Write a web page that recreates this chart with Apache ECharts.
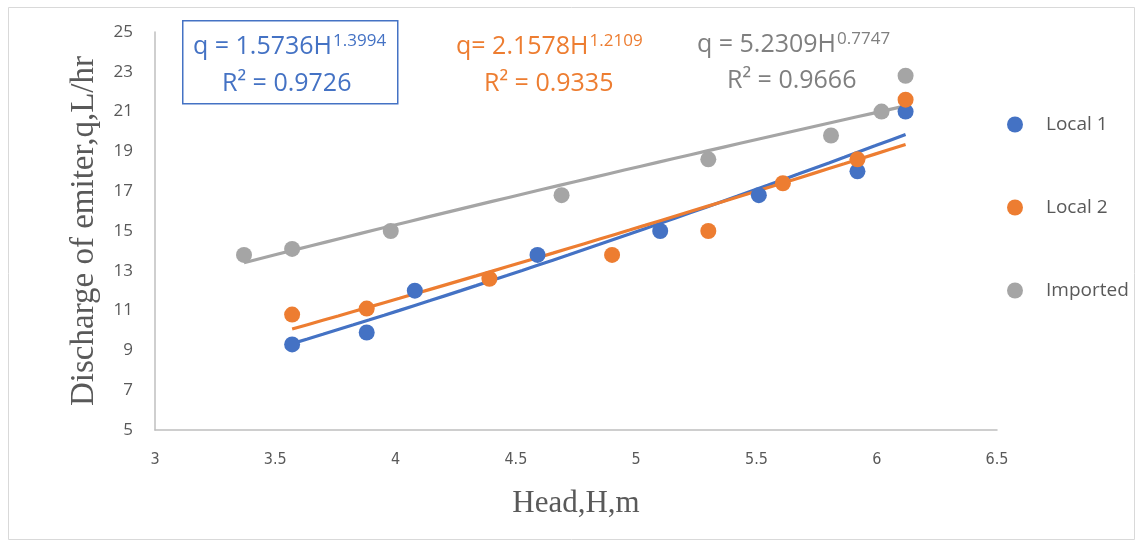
<!DOCTYPE html>
<html><head><meta charset="utf-8">
<script src="https://cdn.jsdelivr.net/npm/echarts@6/dist/echarts.min.js"></script>
<style>html,body{margin:0;padding:0;background:#fff}#c{width:1139px;height:543px}</style>
</head><body><div id="c"></div>
<script>
const seriesNames = ['Local 1', 'Local 2', 'Imported'];
const colors = ['#4472C4', '#ED7D31', '#A5A5A5'];
const textColors = ['#4472C4', '#ED7D31', '#7F7F7F'];
const local1H = [3.57, 3.88, 4.08, 4.59, 5.10, 5.51, 5.92, 6.12];
const local1Q = [9.3, 9.9, 12.0, 13.8, 15.0, 16.8, 18.0, 21.0];
const local2H = [3.57, 3.88, 4.39, 4.90, 5.30, 5.61, 5.92, 6.12];
const local2Q = [10.8, 11.1, 12.6, 13.8, 15.0, 17.4, 18.6, 21.6];
const importedH = [3.37, 3.57, 3.98, 4.69, 5.30, 5.81, 6.02, 6.12];
const importedQ = [13.8, 14.1, 15.0, 16.8, 18.6, 19.8, 21.0, 22.8];
// power trendline coefficients shown on the chart: q = a * H^b
const fitA = [1.5736, 2.1578, 5.2309];
const fitB = [1.3994, 1.2109, 0.7747];
const fitR2 = ['0.9726', '0.9335', '0.9666'];
const eqPrefix = ['q = ', 'q= ', 'q = '];
const xTicks = {min: 3, max: 6.5, interval: 0.5};
const yTicks = {min: 5, max: 25, interval: 2};

const dataH = [local1H, local2H, importedH];
const dataQ = [local1Q, local2Q, importedQ];

function trend(i) {
  const hs = dataH[i];
  const lo = Math.min(...hs), hi = Math.max(...hs);
  const pts = [];
  const n = 40;
  for (let k = 0; k <= n; k++) {
    const h = lo + (hi - lo) * k / n;
    pts.push([h, fitA[i] * Math.pow(h, fitB[i])]);
  }
  return pts;
}

const series = [];
for (let i = 0; i < 3; i++) {
  series.push({
    name: seriesNames[i] + ' trend', type: 'line', data: trend(i), showSymbol: false,
    lineStyle: {color: colors[i], width: 3.2}, silent: true, z: 2
  });
}
for (let i = 0; i < 3; i++) {
  series.push({
    name: seriesNames[i], type: 'scatter', symbol: 'circle', symbolSize: 16,
    itemStyle: {color: colors[i], opacity: 1},
    data: dataH[i].map((h, k) => [h, dataQ[i][k]]), z: 3
  });
}

const eqFamily = '"Open Sans","Noto Sans","Liberation Sans",sans-serif';
const mainSize = 25, supSize = 17;
const ctx = document.createElement('canvas').getContext('2d');
function measure(t, size) { ctx.font = size + 'px ' + eqFamily; return ctx.measureText(t).width; }

function equation(i, x, cy, r2x, r2cy) {
  const main = eqPrefix[i] + fitA[i].toFixed(4) + 'H';
  const w = measure(main, mainSize);
  return [
    {type: 'text', x: x, y: cy, z: 10, style: {text: main, font: mainSize + 'px ' + eqFamily, fill: textColors[i], textVerticalAlign: 'middle', verticalAlign: 'middle'}},
    {type: 'text', x: x + w + 1, y: cy - 6, z: 10, style: {text: fitB[i].toFixed(4), font: supSize + 'px ' + eqFamily, fill: textColors[i], textVerticalAlign: 'middle', verticalAlign: 'middle'}},
    {type: 'text', x: r2x, y: r2cy, z: 10, style: {text: 'R² = ' + fitR2[i], font: mainSize + 'px ' + eqFamily, fill: textColors[i], textVerticalAlign: 'middle', verticalAlign: 'middle'}}
  ];
}

const chart = echarts.init(document.getElementById('c'));
chart.setOption({
  backgroundColor: '#fff',
  animation: false,
  grid: {left: 155, right: 142, top: 32, bottom: 113},
  xAxis: {
    type: 'value', min: xTicks.min, max: xTicks.max, interval: xTicks.interval,
    name: 'Head,H,m', nameLocation: 'middle', nameGap: 58,
    nameTextStyle: {fontFamily: '"Liberation Serif","Times New Roman",serif', fontSize: 31, color: '#595959'},
    axisLine: {show: true, lineStyle: {color: '#BFBFBF', width: 1.5}},
    axisTick: {show: false}, splitLine: {show: false},
    axisLabel: {color: '#595959', fontSize: 16, margin: 22, fontFamily: '"Liberation Sans Narrow","DejaVu Sans Condensed","Liberation Sans",sans-serif'}
  },
  yAxis: {
    type: 'value', min: yTicks.min, max: yTicks.max, interval: yTicks.interval,
    name: 'Discharge of emiter,q,L/hr', nameLocation: 'middle', nameGap: 54, nameRotate: 90,
    nameTextStyle: {fontFamily: '"Liberation Serif","Times New Roman",serif', fontSize: 33, color: '#595959'},
    axisLine: {show: true, lineStyle: {color: '#BFBFBF', width: 1.5}},
    axisTick: {show: false}, splitLine: {show: false},
    axisLabel: {color: '#595959', fontSize: 17, margin: 22, fontFamily: '"Open Sans","Noto Sans",sans-serif'}
  },
  legend: {
    data: seriesNames.map(n => ({name: n, icon: 'circle'})),
    orient: 'vertical', left: 1002, top: 110, itemGap: 64, itemWidth: 16, itemHeight: 16,
    textStyle: {color: '#595959', fontSize: 19, fontFamily: '"Open Sans","Noto Sans",sans-serif', padding: [0, 0, 0, 18]}
  },
  graphic: [
    {type: 'rect', left: 6, top: 5, z: -1, shape: {width: 1126, height: 532}, style: {fill: 'none', stroke: '#D9D9D9', lineWidth: 1}},
    {type: 'rect', left: 182, top: 20, z: 9, shape: {width: 215, height: 83}, style: {fill: '#fff', stroke: '#4472C4', lineWidth: 1.5}}
  ].concat(
    equation(0, 193, 47, 222, 84),
    equation(1, 456, 47, 484, 84),
    equation(2, 697, 45, 727, 81)
  ),
  series: series
});
</script></body></html>
